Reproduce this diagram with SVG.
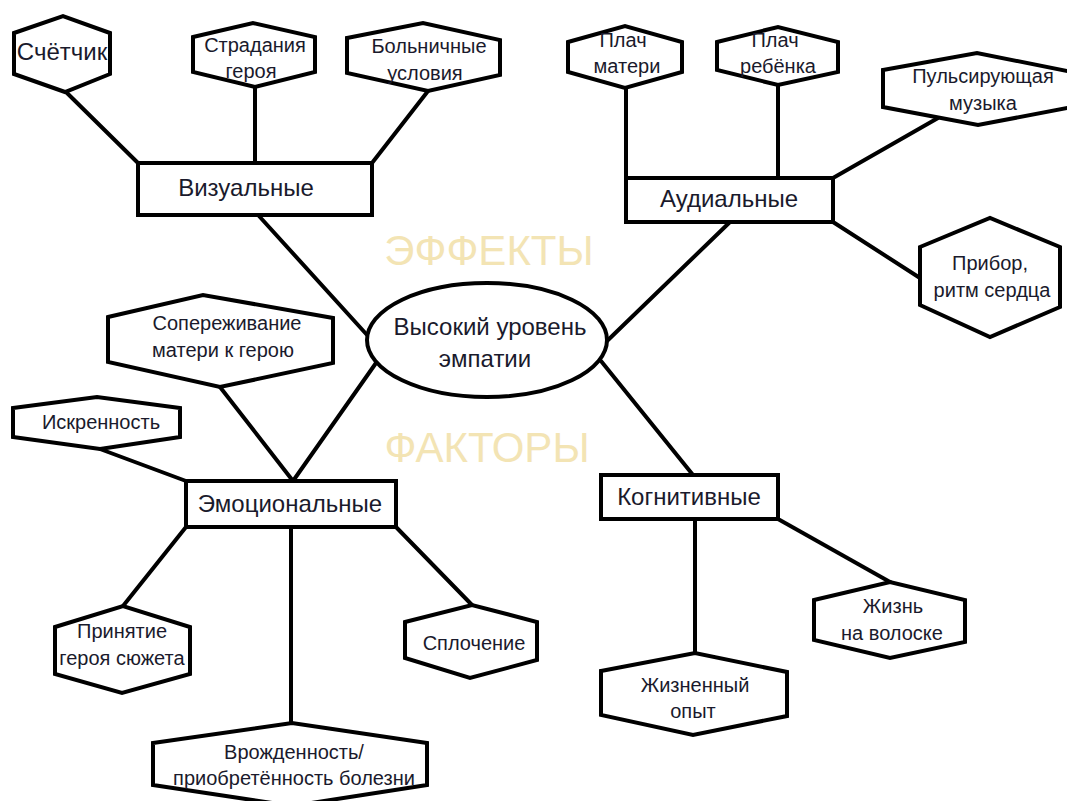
<svg xmlns="http://www.w3.org/2000/svg" width="1067" height="801" viewBox="0 0 1067 801">
<style>
.ln{stroke:#000;stroke-width:4;fill:none;stroke-linecap:round}
.hx{fill:#fff;stroke:#000;stroke-width:4;stroke-linejoin:miter}
.bx{fill:#fff;stroke:#000;stroke-width:4}
.t{font-family:"Liberation Sans",Arial,sans-serif;fill:#1a1a2c;text-anchor:middle}
.s{font-size:20px}
.b{font-size:24px}
.w{font-family:"Liberation Sans",Arial,sans-serif;fill:#f3e4b4;font-size:42px;text-anchor:middle}
</style>
<rect width="1067" height="801" fill="#fff"/>
<text class="w" x="489" y="265">ЭФФЕКТЫ</text>
<text class="w" x="487" y="462">ФАКТОРЫ</text>
<g id="connectors">
<line class="ln" x1="66" y1="92" x2="138" y2="163"/>
<line class="ln" x1="255" y1="87" x2="255" y2="163"/>
<line class="ln" x1="428" y1="91" x2="372" y2="163"/>
<line class="ln" x1="259" y1="216" x2="368" y2="336"/>
<line class="ln" x1="626" y1="88" x2="626" y2="178"/>
<line class="ln" x1="778" y1="85" x2="778" y2="178"/>
<line class="ln" x1="833" y1="178" x2="938" y2="118"/>
<line class="ln" x1="833" y1="222" x2="920" y2="278"/>
<line class="ln" x1="730" y1="222" x2="607" y2="341"/>
<line class="ln" x1="220" y1="387" x2="293" y2="481"/>
<line class="ln" x1="100" y1="449" x2="186" y2="481"/>
<line class="ln" x1="376" y1="363" x2="293" y2="481"/>
<line class="ln" x1="186" y1="527" x2="123" y2="606"/>
<line class="ln" x1="291" y1="527" x2="291" y2="723"/>
<line class="ln" x1="396" y1="527" x2="472" y2="605"/>
<line class="ln" x1="601" y1="361" x2="693" y2="475"/>
<line class="ln" x1="695" y1="519" x2="695" y2="653"/>
<line class="ln" x1="778" y1="519" x2="890" y2="582"/>
</g>
<g id="center">
<ellipse cx="487" cy="340" rx="120" ry="57" fill="#fff" stroke="#000" stroke-width="4"/>
<text class="t b" x="490" y="335">Высокий уровень</text>
<text class="t b" x="485" y="367">эмпатии</text>
</g>
<g id="visual">
<rect class="bx" x="138" y="163" width="234" height="52"/>
<text class="t b" x="246" y="196">Визуальные</text>
</g>
<g id="audio">
<rect class="bx" x="626" y="178" width="207" height="44"/>
<text class="t b" x="729" y="207">Аудиальные</text>
</g>
<g id="emotional">
<rect class="bx" x="186" y="481" width="210" height="46"/>
<text class="t b" x="290" y="512">Эмоциональные</text>
</g>
<g id="cognitive">
<rect class="bx" x="601" y="475" width="177" height="44"/>
<text class="t b" x="689" y="505">Когнитивные</text>
</g>
<g id="counter">
<polygon class="hx" points="14,33 63,16 110,33 110,74 65,92 14,74"/>
<text class="t b" x="62" y="60">Счётчик</text>
</g>
<g id="suffering">
<polygon class="hx" points="193,37 253,23 315,37 315,72 255,87 193,72"/>
<text class="t s" x="255" y="52">Страдания</text>
<text class="t s" x="251" y="78">героя</text>
</g>
<g id="hospital">
<polygon class="hx" points="347,38 423,23 500,40 500,75 428,91 347,73"/>
<text class="t s" x="429" y="53">Больничные</text>
<text class="t s" x="425" y="80">условия</text>
</g>
<g id="mother-cry">
<polygon class="hx" points="568,42 625,26 682,42 682,72 625,88 568,72"/>
<text class="t s" x="623" y="47">Плач</text>
<text class="t s" x="627" y="73">матери</text>
</g>
<g id="child-cry">
<polygon class="hx" points="717,42 778,27 838,42 838,72 778,85 717,70"/>
<text class="t s" x="775" y="47">Плач</text>
<text class="t s" x="778" y="73">ребёнка</text>
</g>
<g id="music">
<polygon class="hx" points="883,70 977,53 1072,72 1072,107 978,125 883,107"/>
<text class="t s" x="983" y="83">Пульсирующая</text>
<text class="t s" x="983" y="110">музыка</text>
</g>
<g id="device">
<polygon class="hx" points="920,247 990,218 1060,247 1060,307 990,337 920,305"/>
<text class="t s" x="990" y="270">Прибор,</text>
<text class="t s" x="992" y="297">ритм сердца</text>
</g>
<g id="empathy-mother">
<polygon class="hx" points="108,317 203,295 333,318 333,363 220,387 108,362"/>
<text class="t s" x="227" y="330">Сопереживание</text>
<text class="t s" x="223" y="357">матери к герою</text>
</g>
<g id="sincerity">
<polygon class="hx" points="13,408 97,397 180,408 180,437 100,449 13,437"/>
<text class="t s" x="101" y="429">Искренность</text>
</g>
<g id="acceptance">
<polygon class="hx" points="55,627 123,606 190,627 190,674 122,693 55,674"/>
<text class="t s" x="122" y="638">Принятие</text>
<text class="t s" x="122" y="665">героя сюжета</text>
</g>
<g id="innate">
<polygon class="hx" points="153,743 292,723 427,743 427,785 292,806 153,785"/>
<text class="t s" x="294" y="759">Врожденность/</text>
<text class="t s" x="294" y="785">приобретённость болезни</text>
</g>
<g id="cohesion">
<polygon class="hx" points="405,622 472,605 537,622 537,660 470,678 405,658"/>
<text class="t s" x="474" y="650">Сплочение</text>
</g>
<g id="experience">
<polygon class="hx" points="601,671 695,653 787,672 787,716 693,735 601,715"/>
<text class="t s" x="695" y="692">Жизненный</text>
<text class="t s" x="693" y="718">опыт</text>
</g>
<g id="thread">
<polygon class="hx" points="814,600 890,582 965,600 965,642 890,658 814,640"/>
<text class="t s" x="893" y="613">Жизнь</text>
<text class="t s" x="892" y="640">на волоске</text>
</g>
</svg>
